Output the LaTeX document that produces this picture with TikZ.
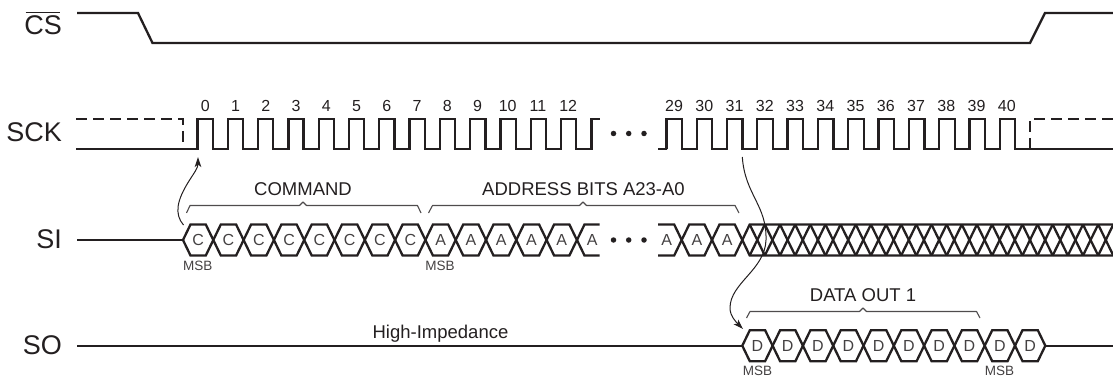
\documentclass[tikz,border=0pt]{standalone}
\usepackage{fontspec}
\setmainfont{Liberation Sans}
\usetikzlibrary{arrows.meta}
\definecolor{ink}{HTML}{231F20}
\tikzset{
  sigline/.style={draw=ink,line width=2.3pt,line join=miter,line cap=butt},
  dashline/.style={sigline,dash pattern=on 11pt off 6pt},
  bracket/.style={draw=ink!80,line width=1.1pt,line join=round},
  arrowline/.style={draw=ink,line width=1pt,-{Stealth[length=10pt,width=6.5pt,inset=2.5pt]}},
  signame/.style={text=ink,font=\fontsize{27}{27}\selectfont,anchor=base east,inner sep=0pt},
  ticklabel/.style={text=ink,font=\fontsize{16}{16}\selectfont,anchor=base,inner sep=0pt},
  hexlabel/.style={text=ink!85,font=\fontsize{16}{16}\selectfont,anchor=center,inner sep=0pt},
  caption/.style={text=ink,font=\fontsize{18.5}{18.5}\selectfont,anchor=base,inner sep=0pt},
  msb/.style={text=ink!85,font=\fontsize{13.5}{13.5}\selectfont,anchor=base,inner sep=0pt},
  dotmark/.style={circle,fill=ink,draw=none,minimum size=5.5pt,inner sep=0pt},
}
\begin{document}
\begin{tikzpicture}[x=1pt,y=-1pt]
\useasboundingbox (0,0) rectangle (1113,377);
% names
\node[signame] (csname) at (62,35) {CS};
\draw[ink,line width=1.2pt] ([xshift=1.5pt,yshift=3.5pt]csname.north west) -- ([xshift=-2.5pt,yshift=3.5pt]csname.north east);
\node[signame] (sckname) at (62,141.7) {SCK};
\node[signame] (siname) at (62,248.5) {SI};
\node[signame] (soname) at (62,354.5) {SO};
% CS
\draw[sigline] (77,13) -- (138,13) -- (152.5,43) -- (1030,43) -- (1045,13) -- (1113,13);
% SCK
\draw[dashline] (76,119) -- (183,119) -- (183,149);
\draw[dashline] (1030,149) -- (1030,119) -- (1113,119);
\draw[sigline] (76,149) foreach \k [evaluate=\k as \r using 197.5+30.3*\k,evaluate=\k as \f using 212.7+30.3*\k] in {0,...,12} { -- (\r,149) -- (\r,119) -- (\f,119) -- (\f,149) } -- (591.5,149) -- (591.5,119) -- (599.5,119);
\draw[sigline] (658,149) -- (667,149) foreach \k [evaluate=\k as \r using 666.4+30.3*\k,evaluate=\k as \f using 682+30.3*\k] in {0,...,11} { -- (\r,149) -- (\r,119) -- (\f,119) -- (\f,149) } -- (1113,149);
\foreach \k [evaluate=\k as \x using 205.2+30.25*\k] in {0,...,12} \node[ticklabel] (clk\k) at (\x,111.5) {\k};
\foreach \k [evaluate=\k as \x using 674+30.25*(\k-29)] in {29,...,40} \node[ticklabel] (clk\k) at (\x,111.5) {\k};
\node[dotmark] (d1) at (613.5,133.5) {};
\node[dotmark] (d2) at (628.7,133.5) {};
\node[dotmark] (d3) at (644,133.5) {};
% SI
\draw[sigline] (77,240) -- (183,240);
\foreach \k [evaluate=\k as \x using 183+30.3*\k] in {0,...,12}
  \draw[sigline] (\x,240) -- (\x+7.5,224.5) -- (\x+22.8,224.5) -- (\x+30.3,240) -- (\x+22.8,255.5) -- (\x+7.5,255.5) -- cycle;
\foreach \k [evaluate=\k as \x using 198.2+30.3*\k] in {0,...,7} \node[hexlabel] (c\k) at (\x,240) {C};
\foreach \k [evaluate=\k as \x using 440.6+30.3*\k] in {0,...,5} \node[hexlabel] (a\k) at (\x,240) {A};
\draw[sigline] (599.5,224.5) -- (584.5,224.5) -- (577,240) -- (584.5,255.5) -- (599.5,255.5);
\draw[sigline] (658,224.5) -- (674.2,224.5) -- (681.7,240) -- (674.2,255.5) -- (658,255.5);
\foreach \k [evaluate=\k as \x using 681.7+30.3*\k] in {0,1}
  \draw[sigline] (\x,240) -- (\x+7.5,224.5) -- (\x+22.8,224.5) -- (\x+30.3,240) -- (\x+22.8,255.5) -- (\x+7.5,255.5) -- cycle;
\node[hexlabel] (a6) at (666.7,240) {A};
\node[hexlabel] (a7) at (696.9,240) {A};
\node[hexlabel] (a8) at (727.2,240) {A};
\node[dotmark] (d4) at (613.5,240) {};
\node[dotmark] (d5) at (628.7,240) {};
\node[dotmark] (d6) at (644,240) {};
% hatch
\begin{scope}
\clip (700,200) rectangle (1113,280);
\draw[sigline] (742.3,240) -- (749.7,224.5) -- (1120,224.5);
\draw[sigline] (742.3,240) -- (749.7,255.5) -- (1120,255.5);
\foreach \k [evaluate=\k as \x using 749.7+15.15*\k] in {0,...,24} {
  \draw[sigline] (\x,224.5) -- (\x+15.15,255.5);
  \draw[sigline] (\x,255.5) -- (\x+15.15,224.5);
}
\end{scope}
% SO
\draw[sigline] (77,345.7) -- (742.3,345.7);
\foreach \k [evaluate=\k as \x using 742.3+30.3*\k] in {0,...,9}
  \draw[sigline] (\x,345.7) -- (\x+7.5,330.2) -- (\x+22.8,330.2) -- (\x+30.3,345.7) -- (\x+22.8,361.2) -- (\x+7.5,361.2) -- cycle;
\foreach \k [evaluate=\k as \x using 757.4+30.3*\k] in {0,...,9} \node[hexlabel] (dd\k) at (\x,345.7) {D};
\draw[sigline] (1045.3,345.7) -- (1113,345.7);
% brackets
\draw[bracket] (186.5,213) -- (190,205.5) -- (299.5,205.5) -- (303,202) -- (306.5,205.5) -- (417.5,205.5) -- (421,213);
\draw[bracket] (428.5,213) -- (432.5,205.5) -- (579.5,205.5) -- (583,202) -- (586.5,205.5) -- (735,205.5) -- (739,213);
\draw[bracket] (746.5,318) -- (750,311.5) -- (859.5,311.5) -- (863,308) -- (866.5,311.5) -- (976.5,311.5) -- (980,318);
% captions
\node[caption] (cmd) at (303,195.5) {COMMAND};
\node[caption] (addr) at (583.5,195.5) {ADDRESS BITS A23-A0};
\node[caption] (dout) at (863,301.5) {DATA OUT 1};
\node[caption] (hiz) at (440.5,338.5) {High-Impedance};
\node[msb] (m1) at (197.8,270.5) {MSB};
\node[msb] (m2) at (440,270.5) {MSB};
\node[msb] (m3) at (757.5,375.5) {MSB};
\node[msb] (m4) at (999.5,375.5) {MSB};
% arrows
\coordinate (p1) at (183.5,225);
\coordinate (p2) at (198,157);
\coordinate (q1) at (742.3,157);
\coordinate (q2) at (766,240);
\coordinate (q3) at (730,308);
\coordinate (q4) at (743,329);
\draw[arrowline] (p1) .. controls (174,214) and (177,200) .. (189,181) .. controls (194,173) and (198,168) .. (p2);
\draw[arrowline] (q1) .. controls (745,195) and (767,205) .. (q2) .. controls (765,270) and (730,283) .. (q3) .. controls (730,316) and (736,322) .. (q4);
\end{tikzpicture}
\end{document}
